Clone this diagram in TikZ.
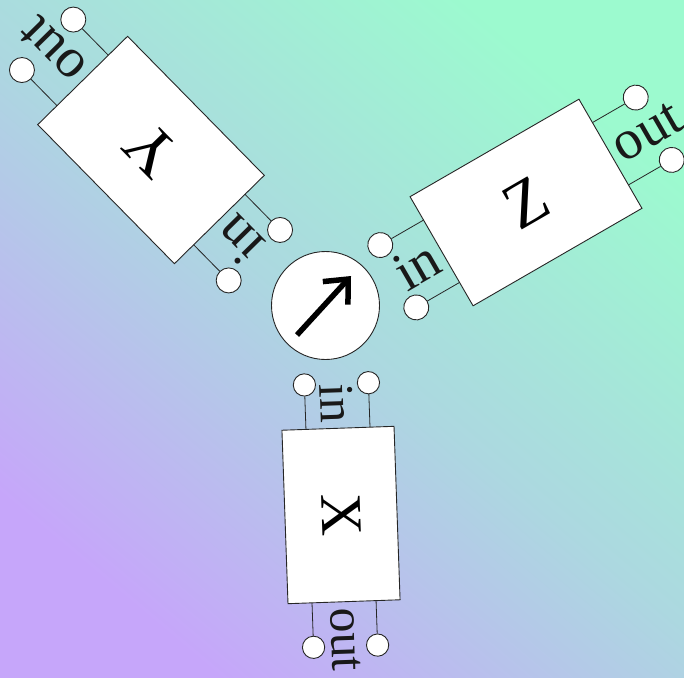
\documentclass[tikz,border=0pt]{standalone}
\usepackage{fontspec}
\setmainfont{Liberation Serif}
\usetikzlibrary{arrows.meta}
\definecolor{bgA}{RGB}{198,166,250}
\definecolor{bgM}{RGB}{172,216,224}
\definecolor{bgB}{RGB}{156,250,207}
\tikzset{
  boxst/.style={draw=black!85, fill=white, line width=0.9pt, rectangle,
    minimum width=195pt, minimum height=126pt, inner sep=0pt,
    font=\fontsize{66}{66}\selectfont},
  term/.style={draw=black!85, fill=white, circle, line width=0.9pt,
    minimum size=25pt, inner sep=0pt},
  wire/.style={draw=black!85, line width=0.8pt},
  lbl/.style={inner sep=6pt, font=\fontsize{56}{56}\selectfont, text=black!90},
}
\newcommand{\myblock}[6]{%
\begin{scope}[shift={(#2,#3)},rotate=#4,scale=#5,transform shape]
  \node[boxst] (#1) at (0,0) {#6};
  \node[term] (#1i1) at (-147.5,36) {};
  \node[term] (#1i2) at (-147.5,-36) {};
  \node[term] (#1o1) at (147.5,36) {};
  \node[term] (#1o2) at (147.5,-36) {};
  \coordinate (#1a1) at (-97.5,36);
  \coordinate (#1a2) at (-97.5,-36);
  \coordinate (#1b1) at (97.5,36);
  \coordinate (#1b2) at (97.5,-36);
  \draw[wire] (#1a1) -- (#1i1);
  \draw[wire] (#1a2) -- (#1i2);
  \draw[wire] (#1b1) -- (#1o1);
  \draw[wire] (#1b2) -- (#1o2);
  \node[lbl,anchor=east] (#1in) at (#1.west) {in};
  \node[lbl,anchor=west] (#1out) at (#1.east) {out};
\end{scope}}
\begin{document}
\begin{tikzpicture}[x=1pt,y=-1pt]
\useasboundingbox (0,0) rectangle (684,677);
\shade[top color=bgB, bottom color=bgA, middle color=bgM, shading angle=-40] (0,0) rectangle (684,677);
\myblock{X}{341}{515}{-88}{0.89}{X}
\myblock{Y}{151}{150}{134.5}{1}{Y}
\myblock{Z}{526}{202.5}{30}{1}{Z}
\node[draw=black!85, fill=white, circle, line width=0.9pt, minimum size=108pt, inner sep=0pt] (c) at (325.5,305.5) {};
\coordinate (ta) at (297,335);
\coordinate (tb) at (351,276);
\draw[line width=5.5pt, -{Straight Barb[length=19pt,width=34pt]}] (ta) -- (tb);
\end{tikzpicture}
\end{document}
